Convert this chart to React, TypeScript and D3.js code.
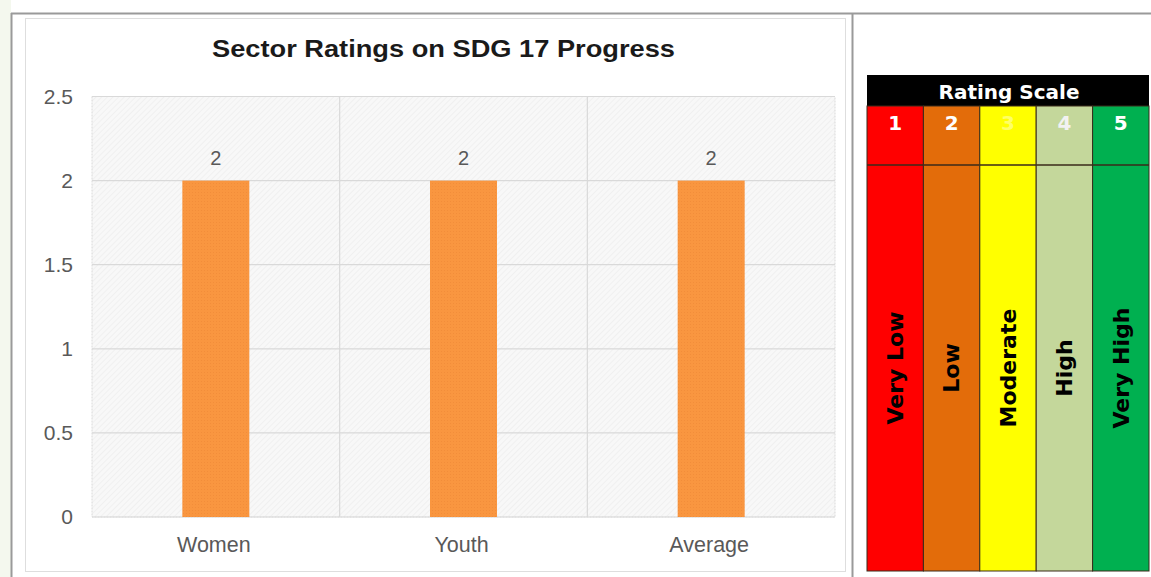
import React from "react";
import * as d3 from "d3";

const TITLE = "Sector Ratings on SDG 17 Progress";
const categories = ["Women", "Youth", "Average"];
const ratings = [2, 2, 2];
const yTicks = [0, 0.5, 1, 1.5, 2, 2.5];

const scaleHeader = "Rating Scale";
const scaleNumbers = ["1", "2", "3", "4", "5"];
const scaleLabels = ["Very Low", "Low", "Moderate", "High", "Very High"];
const scaleColors = ["#ff0000", "#e36c0a", "#ffff00", "#c4d79b", "#00b050"];
const scaleNumberColors = ["#ffffff", "#ffffff", "#ffff66", "#f2f2f2", "#ffffff"];

const W = 1151;
const H = 577;
const plot = { left: 92, right: 835, top: 96.5, bottom: 517 };

export default function App() {
  const x = d3.scaleBand<string>().domain(categories).range([plot.left, plot.right]).paddingInner(0).paddingOuter(0);
  const y = d3.scaleLinear().domain([0, 2.5]).range([plot.bottom, plot.top]);
  const barW = 67;

  const sx = d3.scaleBand<string>().domain(scaleNumbers).range([867, 1149]);
  const hdrTop = 75, hdrBot = 106, numBot = 165, bodyBot = 571;

  const txt = "#595959";
  const font = "Liberation Sans, Arial, sans-serif";
  const gill = "'DejaVu Sans', sans-serif";

  return (
    <svg width={W} height={H} style={{ position: "absolute", left: 0, top: 0, background: "#fff" }}>
      <defs>
        <pattern id="hatch" width="4" height="4" patternUnits="userSpaceOnUse" patternTransform="rotate(45)">
          <rect width="4" height="4" fill="#f8f8f8" />
          <line x1="0" y1="0" x2="0" y2="4" stroke="#ececec" strokeWidth="1.2" />
        </pattern>
        <pattern id="dots" width="3" height="3" patternUnits="userSpaceOnUse">
          <rect width="3" height="3" fill="#f99640" />
          <rect width="1" height="1" fill="#f28d3a" />
        </pattern>
      </defs>
      <rect x={0} y={0} width={11} height={H} fill="#f4f8ee" />
      {/* outer frame */}
      <line x1={11} y1={13.5} x2={W} y2={13.5} stroke="#9a9a9a" strokeWidth={2} />
      <line x1={11.5} y1={13} x2={11.5} y2={H} stroke="#9a9a9a" strokeWidth={2} />
      <line x1={852.5} y1={13} x2={852.5} y2={H} stroke="#9a9a9a" strokeWidth={2} />
      {/* inner chart border */}
      <rect x={25.5} y={18.5} width={820} height={553} fill="#fff" stroke="#dedede" strokeWidth={1} />

      <text x={443.5} y={57} textAnchor="middle" fontFamily={font} fontWeight="bold" fontSize={24} fill="#1a1a1a" textLength={463} lengthAdjust="spacingAndGlyphs">
        {TITLE}
      </text>

      {/* plot background */}
      <rect x={plot.left} y={plot.top} width={plot.right - plot.left} height={plot.bottom - plot.top} fill="url(#hatch)" stroke="#dadada" strokeDasharray="2,1" />

      {yTicks.map((t) => (
        <g key={t}>
          <line x1={plot.left} x2={plot.right} y1={y(t)} y2={y(t)} stroke="#d9d9d9" strokeWidth={1.2} />
          <text x={73} y={y(t)} dy="0.35em" textAnchor="end" fontFamily={font} fontSize={21} fill={txt}>
            {t}
          </text>
        </g>
      ))}
      {categories.map((c, i) =>
        i > 0 ? (
          <line key={c} x1={x(c)!} x2={x(c)!} y1={plot.top} y2={plot.bottom} stroke="#d9d9d9" strokeWidth={1.2} />
        ) : null
      )}

      {categories.map((c, i) => {
        const cx = x(c)! + x.bandwidth() / 2;
        return (
          <g key={c}>
            <rect x={cx - barW / 2} y={y(ratings[i])} width={barW} height={y(0) - y(ratings[i])} fill="url(#dots)" />
            <text x={cx} y={y(ratings[i]) - 16} textAnchor="middle" fontFamily={font} fontSize={20} fill={txt}>
              {ratings[i]}
            </text>
            <text x={cx - 2} y={552} textAnchor="middle" fontFamily={font} fontSize={21.5} fill={txt}>
              {c}
            </text>
          </g>
        );
      })}

      {/* rating scale */}
      <rect x={867} y={hdrTop} width={282} height={hdrBot - hdrTop} fill="#000" />
      <text x={1009} y={99} textAnchor="middle" fontFamily={gill} fontWeight="bold" fontSize={20} fill="#fff">
        {scaleHeader}
      </text>
      {scaleNumbers.map((n, i) => {
        const x0 = sx(n)!;
        const bw = sx.bandwidth();
        return (
          <g key={n}>
            <rect x={x0} y={hdrBot} width={bw} height={bodyBot - hdrBot} fill={scaleColors[i]} stroke="#3a2a1a" strokeWidth={1} />
            <line x1={x0} x2={x0 + bw} y1={numBot} y2={numBot} stroke="#3a2a1a" strokeWidth={1.5} />
            <text x={x0 + bw / 2} y={130} textAnchor="middle" fontFamily={gill} fontWeight="bold" fontSize={20} fill={scaleNumberColors[i]}>
              {n}
            </text>
            <text
              transform={`translate(${x0 + bw / 2},${(numBot + bodyBot) / 2}) rotate(-90)`}
              textAnchor="middle"
              dy="0.35em"
              fontFamily={gill}
              fontWeight="bold"
              fontSize={22}
              fill="#000"
            >
              {scaleLabels[i]}
            </text>
          </g>
        );
      })}
    </svg>
  );
}
